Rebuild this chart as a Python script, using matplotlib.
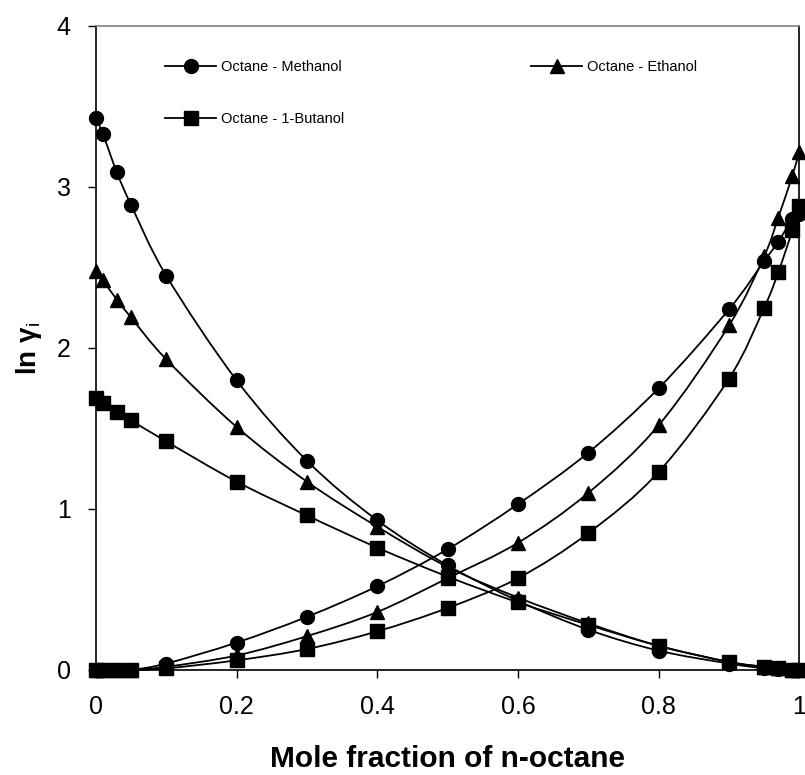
import matplotlib
matplotlib.use("Agg")
import matplotlib.pyplot as plt
from matplotlib.path import Path
from matplotlib.patches import PathPatch
from matplotlib.lines import Line2D
import numpy as np

plt.rcParams["font.family"] = ["Liberation Sans", "DejaVu Sans"]
plt.rcParams["mathtext.fontset"] = "custom"
plt.rcParams["mathtext.rm"] = "Liberation Sans"
plt.rcParams["mathtext.it"] = "Liberation Sans:italic"
plt.rcParams["mathtext.bf"] = "Liberation Sans:bold"

# mole fraction of n-octane
xOct = [0, 0.01, 0.03, 0.05, 0.1, 0.2, 0.3, 0.4, 0.5, 0.6, 0.7, 0.8, 0.9, 0.95, 0.97, 0.99, 1.0]

# ln gamma of octane (falling) and of the alcohol (rising)
methOct = [3.43, 3.33, 3.09, 2.89, 2.45, 1.80, 1.30, 0.93, 0.65, 0.43, 0.25, 0.12, 0.04, 0.01, 0.005, 0.0, 0.0]
methAlc = [0.0, 0.0, 0.0, 0.0, 0.04, 0.17, 0.33, 0.52, 0.75, 1.03, 1.35, 1.75, 2.24, 2.54, 2.66, 2.80, 2.83]
ethOct = [2.48, 2.42, 2.30, 2.19, 1.93, 1.51, 1.17, 0.89, 0.64, 0.45, 0.29, 0.15, 0.05, 0.02, 0.01, 0.0, 0.0]
ethAlc = [0.0, 0.0, 0.0, 0.0, 0.02, 0.09, 0.21, 0.36, 0.57, 0.79, 1.10, 1.52, 2.14, 2.57, 2.81, 3.07, 3.22]
butOct = [1.69, 1.66, 1.60, 1.55, 1.42, 1.17, 0.96, 0.76, 0.58, 0.42, 0.28, 0.15, 0.05, 0.02, 0.01, 0.0, 0.0]
butAlc = [0.0, 0.0, 0.0, 0.0, 0.01, 0.06, 0.13, 0.24, 0.385, 0.57, 0.85, 1.23, 1.81, 2.25, 2.47, 2.73, 2.88]

seriesList = [
  ("Octane - Methanol", "o", methOct, methAlc),
  ("Octane - 1-Butanol", "s", butOct, butAlc),
  ("Octane - Ethanol", "^", ethOct, ethAlc),
]


def smoothPath(ax, x, y):
  # Catmull-Rom style bezier through points, built in display space
  pts = ax.transData.transform(np.column_stack([x, y]))
  n = len(pts)
  verts = [pts[0]]
  codes = [Path.MOVETO]
  for i in range(n - 1):
    p0 = pts[max(i - 1, 0)]
    p1 = pts[i]
    p2 = pts[i + 1]
    p3 = pts[min(i + 2, n - 1)]
    c1 = p1 + (p2 - p0) / 6
    c2 = p2 - (p3 - p1) / 6
    verts += [c1, c2, p2]
    codes += [Path.CURVE4] * 3
  return Path(verts, codes)


fig = plt.figure(figsize=(8.05, 7.75), dpi=100)
ax = fig.add_axes([0.119, 0.1355, 0.874, 0.831])
ax.set_xlim(0, 1)
ax.set_ylim(0, 4)

handles = []
for label, marker, yOct, yAlc in seriesList:
  for yy in (yOct, yAlc):
    ax.plot(xOct, yy, linestyle="none", marker=marker, markersize=10,
            color="black", clip_on=False, zorder=3)
  handles.append(Line2D([], [], color="black", marker=marker, markersize=10,
                        linewidth=1.3, label=label))

fig.canvas.draw()
for label, marker, yOct, yAlc in seriesList:
  for yy in (yOct, yAlc):
    path = smoothPath(ax, xOct, yy)
    ax.add_patch(PathPatch(path, transform=None, facecolor="none",
                           edgecolor="black", linewidth=1.3, zorder=2,
                           clip_on=False))

ax.set_xticks([0, 0.2, 0.4, 0.6, 0.8, 1.0])
ax.set_xticklabels(["0", "0.2", "0.4", "0.6", "0.8", "1"])
ax.set_yticks([0, 1, 2, 3, 4])
ax.tick_params(axis="both", direction="out", length=6, width=1, labelsize=18)
ax.tick_params(axis="x", pad=12)
ax.tick_params(axis="y", pad=12)

for side in ("left", "bottom", "right"):
  ax.spines[side].set_color("black")
  ax.spines[side].set_linewidth(1.2)
ax.spines["top"].set_color("#808080")
ax.spines["top"].set_linewidth(1.2)

ax.set_xlabel("Mole fraction of n-octane", fontsize=21.5, fontweight="bold", labelpad=19)
ax.set_ylabel(r"ln γ$_\mathrm{i}$", fontsize=20, fontweight="bold", labelpad=9)

ax.legend(handles=handles, ncol=2, loc="upper left", bbox_to_anchor=(0.08, 0.968),
          frameon=False, fontsize=10.5, handlelength=3.5, columnspacing=12.8,
          labelspacing=2.6, handletextpad=0.35)

fig.savefig("out.png", dpi=100)
